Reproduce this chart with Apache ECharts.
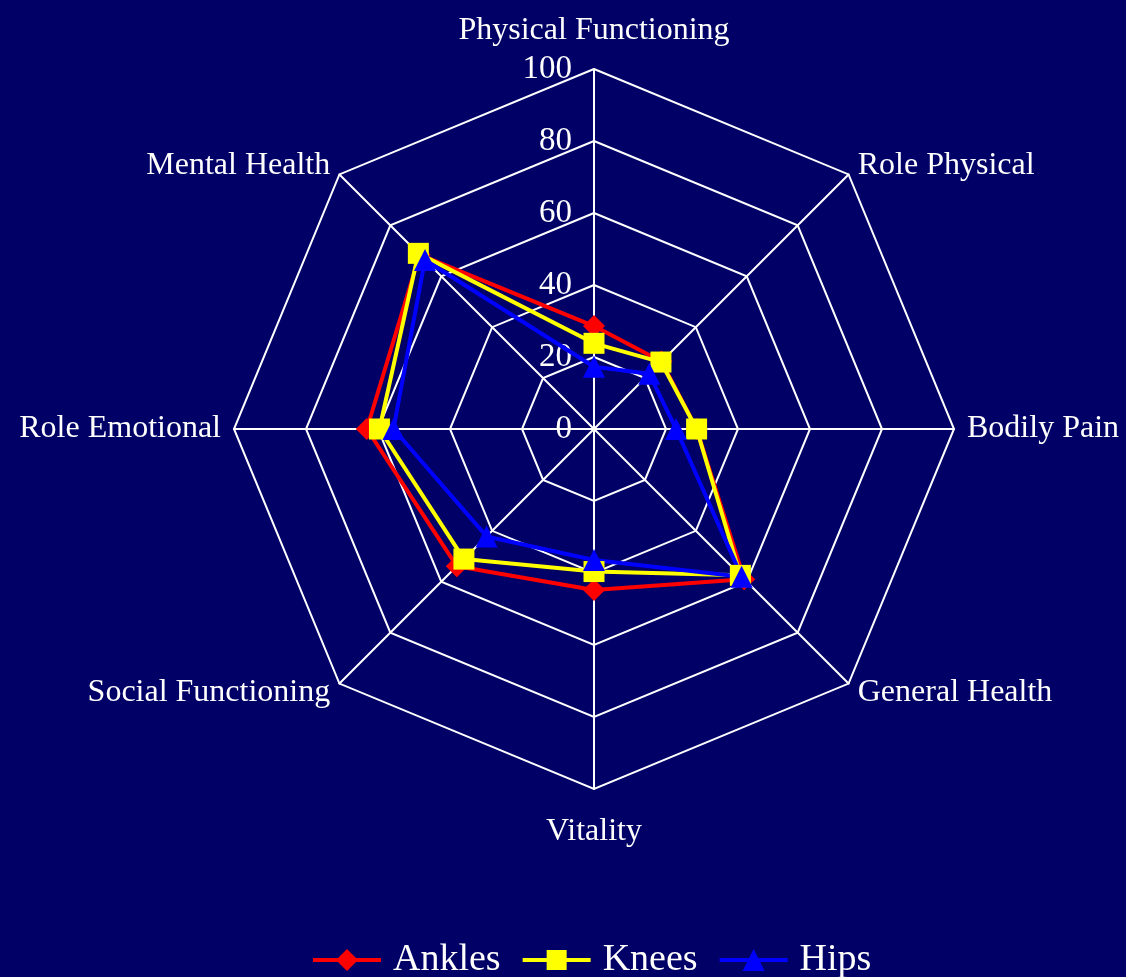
<!DOCTYPE html>
<html>
<head>
<meta charset="utf-8">
<title>SF-36 radar</title>
<script src="https://cdn.jsdelivr.net/npm/echarts@6/dist/echarts.min.js"></script>
<style>
    html, body { margin: 0; padding: 0; background: #000066; }
    #chart { width: 1126px; height: 977px; }
</style>
</head>
<body>
<div id="chart"></div>
<script>
// Indicators listed counter-clockwise from the top (ECharts radar order)
const dimensions = [
    "Physical Functioning",
    "Mental Health",
    "Role Emotional",
    "Social Functioning",
    "Vitality",
    "General Health",
    "Bodily Pain",
    "Role Physical"
];
const ankles = [28.6, 68.5, 63.1, 53.9, 44.7, 59.0, 28.5, 26.5];
const knees = [23.8, 69.0, 59.6, 51.1, 39.6, 57.5, 28.5, 26.3];
const hips = [17.3, 66.4, 55.7, 42.2, 36.4, 58.0, 22.8, 21.7];
const seriesNames = ["Ankles", "Knees", "Hips"];
const axisMax = 100;

document.addEventListener("DOMContentLoaded", function () {
    const chart = echarts.init(document.getElementById("chart"));
    const serif = "'Liberation Serif', 'Times New Roman', serif";

    // line + marker legend icons (68 x 22 box)
    const bar = "M0,9 L68,9 L68,13 L0,13 Z ";
    const legendIcons = {
        Ankles: "path://" + bar + "M34,0 L45,11 L34,22 L23,11 Z",
        Knees: "path://" + bar + "M24,1 L44,1 L44,21 L24,21 Z",
        Hips: "path://" + bar + "M34,0 L45,22 L23,22 Z"
    };

    const indicators = dimensions.map((name, i) => {
        const item = { name: name, min: 0, max: axisMax };
        if (i === 0) {
            item.nameGap = 22;
            item.axisLabel = {
                show: true,
                color: "#ffffff",
                fontFamily: serif,
                fontSize: 33,
                margin: 22
            };
        }
        if (name === "Vitality") {
            item.nameGap = 27;
        }
        return item;
    });

    function radarSeries(name, values, color, symbol, size) {
        return {
            name: name,
            type: "radar",
            symbol: symbol,
            symbolSize: size,
            lineStyle: { color: color, width: 4 },
            itemStyle: { color: color },
            data: [{ name: name, value: values }]
        };
    }

    chart.setOption({
        backgroundColor: "#000066",
        animation: false,
        legend: {
            data: seriesNames.map(n => ({ name: n, icon: legendIcons[n] })),
            top: 936,
            left: 308,
            itemWidth: 68,
            itemHeight: 22,
            itemGap: 22,
            textStyle: {
                color: "#ffffff",
                fontFamily: serif,
                fontSize: 38,
                padding: [0, 0, 0, 7]
            }
        },
        radar: {
            center: [594, 429],
            radius: 360,
            startAngle: 90,
            splitNumber: 5,
            shape: "polygon",
            indicator: indicators,
            axisName: {
                color: "#ffffff",
                fontFamily: serif,
                fontSize: 32
            },
            nameGap: 13,
            axisLine: { lineStyle: { color: "#ffffff", width: 2 } },
            splitLine: { lineStyle: { color: "#ffffff", width: 2 } },
            splitArea: { show: false }
        },
        series: [
            radarSeries("Ankles", ankles, "#ff0000", "diamond", 22),
            radarSeries("Knees", knees, "#ffff00", "rect", 21),
            radarSeries("Hips", hips, "#0000ff", "triangle", 22)
        ]
    });

    window.addEventListener("resize", () => chart.resize());
});
</script>
</body>
</html>
